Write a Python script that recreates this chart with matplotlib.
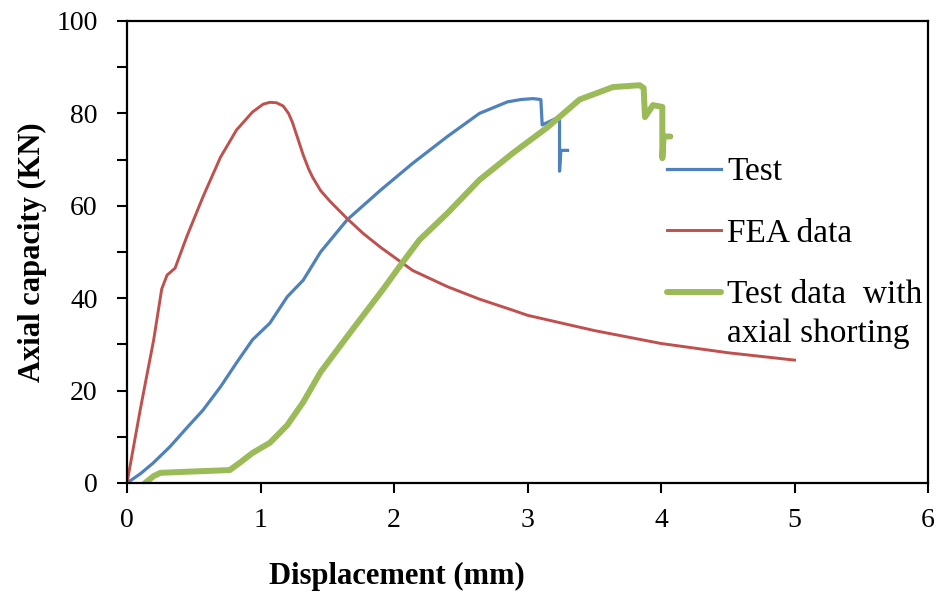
import matplotlib
matplotlib.use("Agg")
import matplotlib.pyplot as plt
from matplotlib.ticker import MultipleLocator

plt.rcParams["font.family"] = ["Liberation Serif", "DejaVu Serif"]

# Test (blue)
test_x = [0, 0.1, 0.195, 0.32, 0.45, 0.57, 0.70, 0.82, 0.94, 1.07, 1.20, 1.32, 1.45, 1.65,
          1.90, 2.14, 2.40, 2.64, 2.85, 2.95, 3.04, 3.10, 3.11, 3.22, 3.24, 3.24, 3.25, 3.30]
test_y = [0, 2, 4.3, 7.8, 12, 15.8, 20.8, 26, 31, 34.6, 40.3, 43.9, 50, 57,
          63.4, 69.2, 75, 80, 82.5, 83, 83.2, 83, 77.5, 79, 78.5, 67.5, 72, 72]

# FEA data (red)
fea_x = [0, 0.1, 0.2, 0.26, 0.30, 0.36, 0.45, 0.57, 0.70, 0.82, 0.94, 1.02, 1.07, 1.12,
         1.17, 1.21, 1.24, 1.28, 1.32, 1.36, 1.39, 1.45, 1.52, 1.65, 1.77, 1.90, 2.14,
         2.40, 2.64, 2.89, 3.0, 3.5, 4.0, 4.5, 5.0]
fea_y = [0, 16, 31, 42, 45, 46.5, 53.5, 62, 70.5, 76.4, 80.3, 82, 82.4, 82.3,
         81.6, 80, 78, 74.5, 71, 68, 66.2, 63.3, 61, 57.2, 54, 51, 46,
         42.5, 39.8, 37.4, 36.3, 33.0, 30.2, 28.2, 26.6]

# Test data with axial shorting (green)
short_x = [0.135, 0.20, 0.25, 0.5, 0.77, 0.85, 0.94, 1.07, 1.20, 1.32, 1.45, 1.67, 1.92, 2.04,
           2.19, 2.40, 2.64, 2.89, 3.15, 3.39, 3.64, 3.84, 3.87, 3.88, 3.94, 4.01, 4.01, 4.02, 4.07]
short_y = [0, 1.5, 2.2, 2.5, 2.8, 4.5, 6.5, 8.7, 12.5, 17.5, 24, 32.5, 42, 46.8,
           52.6, 58.4, 65.6, 71.4, 77, 83, 85.7, 86.1, 85.5, 79.2, 81.8, 81.4, 70.3, 75, 75]

fig = plt.figure(figsize=(9.39, 5.94), dpi=100)
ax = fig.add_axes([127 / 939, 1 - 483 / 594, 801 / 939, 462 / 594])

ax.plot(test_x, test_y, color="#4F81BD", lw=2.3, label="Test", solid_joinstyle="round")
ax.plot(fea_x, fea_y, color="#C0504D", lw=2.1, label="FEA data", solid_joinstyle="round")
ax.plot(short_x, short_y, color="#9BBB59", lw=4.3, label="Test data  with",
        solid_joinstyle="round", solid_capstyle="round")

ax.set_xlim(0, 6)
ax.set_ylim(0, 100)
ax.xaxis.set_major_locator(MultipleLocator(1))
ax.yaxis.set_major_locator(MultipleLocator(20))
ax.yaxis.set_minor_locator(MultipleLocator(10))
ax.tick_params(which="both", direction="out", length=7, width=1.5, labelsize=20)
ax.tick_params(axis="y", pad=14)
ax.tick_params(axis="x", pad=11)
for s in ax.spines.values():
    s.set_linewidth(1.6)

ax.set_xlabel("Displacement (mm)", fontsize=22, fontweight="bold")
ax.xaxis.set_label_coords((397 - 127) / 801, -(562 - 483) / 462)
ax.set_ylabel("Axial capacity (KN)", fontsize=22, fontweight="bold")
ax.yaxis.set_label_coords(-(127 - 47) / 801, 0.5)

leg = ax.legend(loc="upper left", bbox_to_anchor=(0.658, 0.735), frameon=False,
                fontsize=24, handlelength=1.62, handletextpad=0.18, labelspacing=0.93,
                borderaxespad=0)
ax.annotate("axial shorting", xy=(0, 0), xycoords=leg.get_texts()[2],
            xytext=(0, -6), textcoords="offset points", va="top", ha="left",
            fontsize=24, zorder=10)

fig.savefig("out.png", dpi=100)
